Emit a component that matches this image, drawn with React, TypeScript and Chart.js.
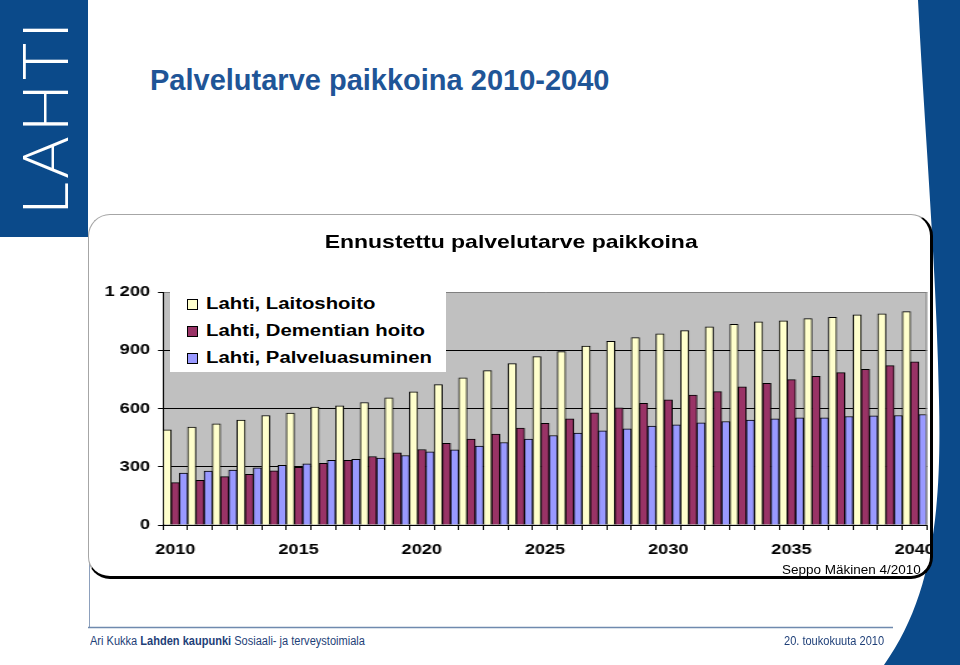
import React, { useEffect, useRef } from 'react';
import { Chart, registerables } from 'chart.js';

Chart.register(...registerables);

// ---- data ----
const years = [
  '2010', '2011', '2012', '2013', '2014', '2015', '2016', '2017', '2018', '2019', '2020',
  '2021', '2022', '2023', '2024', '2025', '2026', '2027', '2028', '2029', '2030',
  '2031', '2032', '2033', '2034', '2035', '2036', '2037', '2038', '2039', '2040',
];
const shownYearLabels = ['2010', '2015', '2020', '2025', '2030', '2035', '2040'];
const laitoshoito = [
  490, 504, 521, 540, 564, 576, 607, 614, 631, 655, 686,
  723, 758, 795, 831, 867, 893, 922, 946, 965, 984,
  1001, 1020, 1034, 1046, 1051, 1063, 1070, 1082, 1087, 1099,
];
const dementianHoito = [
  218, 230, 249, 261, 279, 297, 317, 333, 353, 372, 389,
  420, 442, 468, 499, 523, 547, 578, 603, 626, 645,
  669, 687, 711, 730, 749, 766, 785, 802, 821, 840,
];
const palveluasuminen = [
  267, 278, 283, 295, 307, 315, 333, 338, 345, 358, 377,
  387, 406, 425, 442, 461, 473, 485, 495, 509, 516,
  526, 533, 540, 547, 552, 552, 559, 562, 564, 569,
];
const seriesNames = ['Lahti, Laitoshoito', 'Lahti, Dementian hoito', 'Lahti, Palveluasuminen'];
const seriesColors = ['#FFFFCC', '#993366', '#9999FF'];
const yMin = 0;
const yMax = 1200;
const yStep = 300;

const STRETCH = 1.25;
const FONT = 'Arial, "Liberation Sans", Helvetica, sans-serif';
const NARROW = '"Liberation Sans Narrow", "Arial Narrow", Arial, sans-serif';

const formatThousands = (v: number) =>
  String(v).replace(/\B(?=(\d{3})+(?!\d))/g, ' ');

const plotBg = {
  id: 'plotBg',
  beforeDraw(chart: any) {
    const { ctx, chartArea } = chart;
    if (!chartArea) return;
    ctx.save();
    ctx.fillStyle = '#C0C0C0';
    ctx.fillRect(chartArea.left, chartArea.top, chartArea.right - chartArea.left, chartArea.bottom - chartArea.top);
    ctx.restore();
  },
  afterDatasetsDraw(chart: any) {
    const { ctx, chartArea } = chart;
    ctx.save();
    ctx.strokeStyle = '#808080';
    ctx.lineWidth = 1;
    ctx.beginPath();
    ctx.moveTo(chartArea.right - 0.5, chartArea.bottom);
    ctx.lineTo(chartArea.right - 0.5, chartArea.top);
    ctx.stroke();
    ctx.restore();
  },
};

function BarChart() {
  const ref = useRef<HTMLCanvasElement | null>(null);
  useEffect(() => {
    if (!ref.current) return;
    const chart = new Chart(ref.current, {
      type: 'bar',
      data: {
        labels: years,
        datasets: [laitoshoito, dementianHoito, palveluasuminen].map((d, i) => ({
          label: seriesNames[i],
          data: d,
          backgroundColor: seriesColors[i],
          borderColor: '#000',
          borderWidth: 1,
          borderSkipped: 'start',
          categoryPercentage: 1,
          barPercentage: 1,
        })),
      },
      options: {
        responsive: false,
        maintainAspectRatio: false,
        animation: false,
        devicePixelRatio: 1,
        layout: { padding: { top: 77, right: 9.6, bottom: 20, left: 0 } },
        plugins: {
          legend: { display: false },
          title: { display: false },
          tooltip: { enabled: false },
        },
        scales: {
          x: {
            offset: true,
            grid: {
              display: true,
              offset: true,
              drawOnChartArea: false,
              drawTicks: true,
              tickLength: 5,
              tickColor: '#000',
              color: '#000',
            },
            border: { color: '#000', width: 1 },
            ticks: {
              autoSkip: false,
              maxRotation: 0,
              minRotation: 0,
              padding: 11,
              color: '#000',
              font: { family: FONT, size: 14.5, weight: 'bold' },
              callback: (_v: any, i: number) => (shownYearLabels.includes(years[i]) ? years[i] : ''),
            },
            afterFit: (s: any) => {
              s.height = 30;
              s.paddingLeft = 0;
              s.paddingRight = 0;
            },
          },
          y: {
            min: yMin,
            max: yMax,
            grid: {
              color: (c: any) => (c.tick && c.tick.value === yMax ? '#808080' : '#000'),
              tickColor: '#000',
              tickLength: 4,
              lineWidth: 1,
            },
            border: { color: '#000', width: 1 },
            ticks: {
              stepSize: yStep,
              padding: 6.4,
              color: '#000',
              font: { family: FONT, size: 14.5, weight: 'bold' },
              callback: (v: any) => formatThousands(Number(v)),
            },
            afterFit: (s: any) => {
              s.width = 59.2;
            },
          },
        },
      },
      plugins: [plotBg],
    } as any);
    return () => chart.destroy();
  }, []);
  return (
    <div style={{ position: 'absolute', left: 0, top: 0, transform: `scaleX(${STRETCH})`, transformOrigin: '0 0' }}>
      <canvas ref={ref} width={680} height={360} style={{ display: 'block' }} />
    </div>
  );
}

export default function App() {
  return (
    <div
      style={{
        position: 'absolute',
        left: 0,
        top: 0,
        width: 960,
        height: 665,
        overflow: 'hidden',
        background: '#fff',
        fontFamily: FONT,
      }}
    >
      <svg width={960} height={665} style={{ position: 'absolute', left: 0, top: 0 }}>
        <rect x={0} y={0} width={88} height={237} fill="#0B4A8A" />
        <text
          x={-215}
          y={68}
          transform="rotate(-90)"
          fontSize={64}
          fontFamily="Lato, 'Open Sans', sans-serif"
          fontWeight={300}
          fill="#fff"
          textLength={193}
          lengthAdjust="spacing"
        >
          LAHTI
        </text>
        <path d="M918,0 C924,120 936,260 939,400 C942,520 930,600 884,665 L960,665 L960,0 Z" fill="#0B4A8A" />
        <line x1={89.5} y1={237} x2={89.5} y2={628} stroke="#8DA0BC" strokeWidth={1} />
        <line x1={88} y1={627.5} x2={893} y2={627.5} stroke="#6F8AAE" strokeWidth={1.5} />
      </svg>

      <div
        style={{
          position: 'absolute',
          left: 150,
          top: 63,
          fontSize: 29,
          fontWeight: 'bold',
          color: '#1F5597',
          lineHeight: '34px',
          whiteSpace: 'nowrap',
        }}
      >
        Palvelutarve paikkoina 2010-2040
      </div>

      <div
        style={{
          position: 'absolute',
          left: 88,
          top: 214,
          width: 845,
          height: 365,
          boxSizing: 'border-box',
          borderTop: '1px solid #A6A6A6',
          borderLeft: '1px solid #A6A6A6',
          borderRight: '3px solid #000',
          borderBottom: '3px solid #000',
          borderRadius: 22,
          overflow: 'hidden',
          background: '#fff',
        }}
      >
        <BarChart />
        <div
          style={{
            position: 'absolute',
            left: 172,
            top: 17,
            width: 500,
            textAlign: 'center',
            fontSize: 19,
            fontWeight: 'bold',
            lineHeight: '20px',
            color: '#000',
            whiteSpace: 'nowrap',
          }}
        >
          <span style={{ display: 'inline-block', transform: 'scaleX(1.21)' }}>Ennustettu palvelutarve paikkoina</span>
        </div>
        <div
          style={{
            position: 'absolute',
            left: 81,
            top: 77,
            width: 276,
            height: 80,
            background: '#fff',
          }}
        >
          {seriesNames.map((name, i) => (
            <div
              key={name}
              style={{ position: 'absolute', left: 0, top: 2 + i * 27, height: 20, width: 276 }}
            >
              <div
                style={{
                  position: 'absolute',
                  left: 17,
                  top: 5,
                  width: 11,
                  height: 11,
                  boxSizing: 'border-box',
                  border: '1px solid #000',
                  background: seriesColors[i],
                }}
              />
              <div
                style={{
                  position: 'absolute',
                  left: 36,
                  top: 0,
                  fontSize: 16,
                  fontWeight: 'bold',
                  lineHeight: '20px',
                  color: '#000',
                  whiteSpace: 'nowrap',
                  transform: 'scaleX(1.27)',
                  transformOrigin: '0 0',
                }}
              >
                {name}
              </div>
            </div>
          ))}
        </div>
        <div
          style={{
            position: 'absolute',
            left: 693,
            top: 347,
            fontSize: 13.5,
            lineHeight: '16px',
            color: '#000',
            whiteSpace: 'nowrap',
          }}
        >
          Seppo Mäkinen 4/2010
        </div>
      </div>

      <div
        style={{
          position: 'absolute',
          left: 90,
          top: 634,
          fontFamily: NARROW,
          fontSize: 12,
          lineHeight: '14px',
          color: '#1E3F78',
          whiteSpace: 'nowrap',
          transform: 'scaleX(0.92)',
          transformOrigin: '0 0',
        }}
      >
        Ari Kukka <b>Lahden kaupunki</b> Sosiaali- ja terveystoimiala
      </div>
      <div
        style={{
          position: 'absolute',
          left: 784,
          top: 634,
          fontFamily: NARROW,
          fontSize: 12,
          lineHeight: '14px',
          color: '#1E3F78',
          whiteSpace: 'nowrap',
          transform: 'scaleX(0.92)',
          transformOrigin: '0 0',
        }}
      >
        20. toukokuuta 2010
      </div>
    </div>
  );
}
